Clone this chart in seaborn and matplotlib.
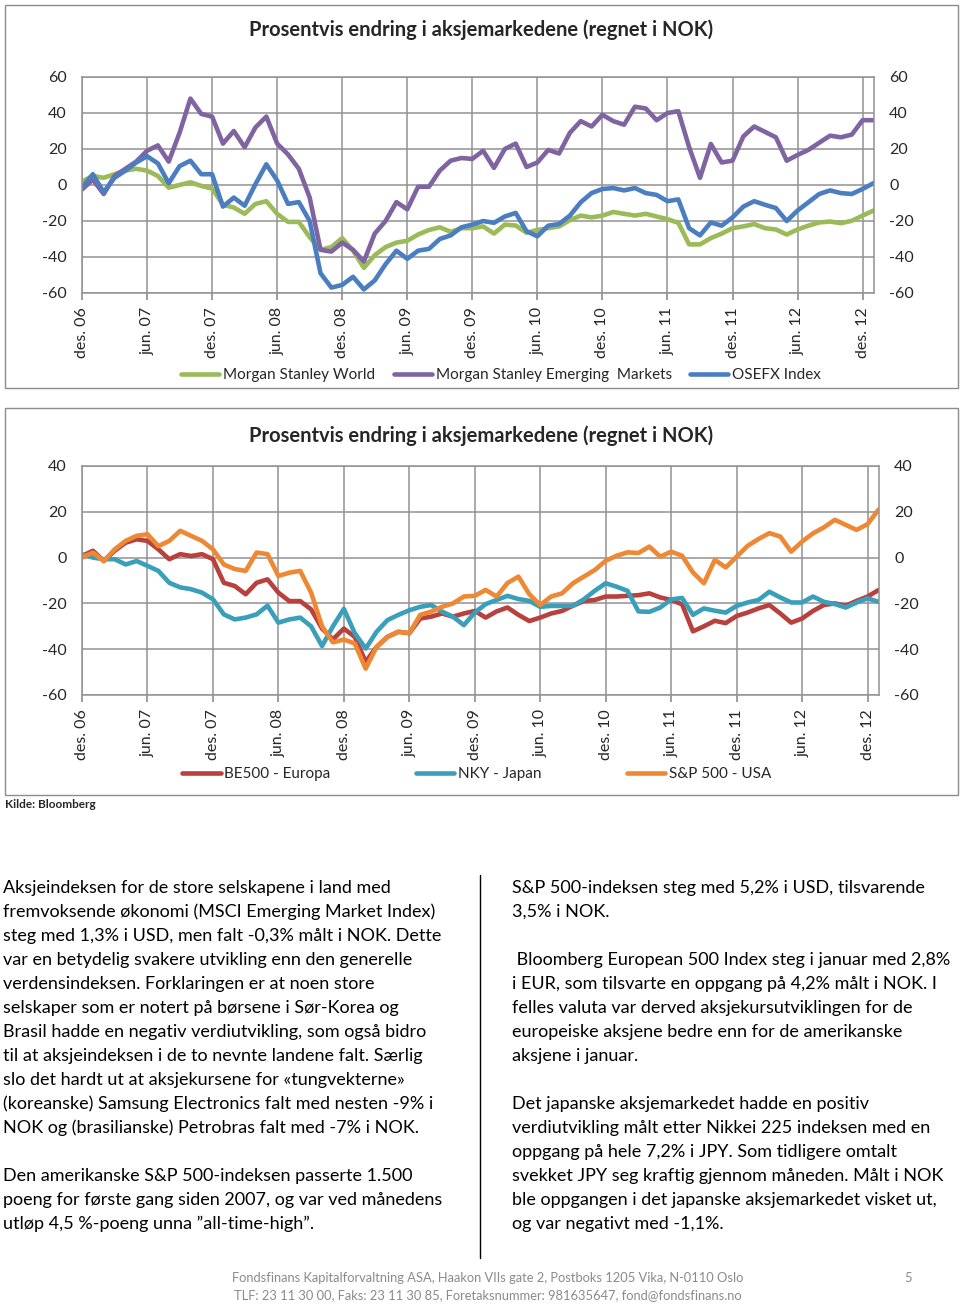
import numpy as np
import pandas as pd
import matplotlib
matplotlib.use("Agg")
import matplotlib.pyplot as plt
import seaborn as sns
from matplotlib.lines import Line2D
from matplotlib.patches import Rectangle

# month index 0 = des. 06 ... 73 = jan. 13
months = np.arange(74)
tick_pos = list(range(0, 73, 6))
tick_labels = ["des. 06", "jun. 07", "des. 07", "jun. 08", "des. 08", "jun. 09", "des. 09",
               "jun. 10", "des. 10", "jun. 11", "des. 11", "jun. 12", "des. 12"]

title = "Prosentvis endring i aksjemarkedene (regnet i NOK)"

# chart 1
names_1 = ["Morgan Stanley World", "Morgan Stanley Emerging  Markets", "OSEFX Index"]
colors_1 = ["#9BBB59", "#8064A2", "#4A7EC0"]
ms_world = [2, 5, 4, 6, 8, 9, 8, 5, -1.5, 0, 1.5, -0.5, -2,
            -11, -12.5, -16, -10.5, -9, -16, -20.5, -20.5, -29, -36, -34.5, -29.5,
            -36.5, -46, -39, -34.5, -32, -31, -27.5, -25, -23.5, -26, -24, -24,
            -23, -27, -22, -22.5, -26.5, -25, -24, -23, -19.5, -17, -18, -17,
            -15, -16, -17, -16, -17.5, -19, -21, -33, -33, -29.5, -27, -24,
            -23, -21.7, -24, -24.7, -27.5, -24.7, -22.6, -20.8, -20.3, -21.2, -19.9, -17, -14.2]
ms_em = [-2.5, 3, -5, 5, 9, 13, 19, 22, 13, 29, 48, 39.5, 38,
         23, 30, 21, 32, 38, 23, 17, 9, -7, -36, -37, -32,
         -36, -42.5, -27, -20, -9.5, -13.5, -1, -1, 8, 13.5, 15, 14.5,
         19, 9.5, 20, 23, 10, 12.5, 19.5, 17.5, 29, 35.5, 32.5, 39,
         35.5, 33.5, 43.5, 42.5, 36, 40, 41, 21, 4, 22.8, 12.5, 13.5,
         27, 32.5, 29.5, 26.5, 13.5, 16.7, 19.5, 23.5, 27.4, 26.5, 28, 36, 36]
osefx = [-1.5, 6, -4, 4, 8, 12.5, 16, 12, 1, 10.5, 13.5, 6, 6,
         -12, -7, -11.5, 0.5, 11.5, 2.5, -10.5, -9.5, -20, -49, -57, -55.5,
         -51, -58, -53, -44, -36.5, -41, -36.5, -35.5, -30, -28, -23.5, -22,
         -20, -21, -17.5, -15.5, -25.7, -28.5, -22.6, -21.7, -17, -9.6, -4.5, -2.2,
         -1.7, -3, -1.7, -4.5, -5.5, -9, -8, -24, -28, -20.8, -22.6, -18,
         -12, -9, -11, -12.8, -20, -14.2, -9.6, -5, -3, -4.5, -5, -2.2, 1]

# chart 2
names_2 = ["BE500 - Europa", "NKY - Japan", "S&P 500 - USA"]
colors_2 = ["#B8403D", "#3A9FBA", "#EE8834"]
be500 = [0.7, 3, -1.5, 3, 6.5, 8, 7.3, 3.6, -0.7, 1.5, 0.7, 1.5, -0.7,
         -11, -12.4, -16, -11, -9.5, -15.3, -19, -19, -22.6, -31, -35.7, -31,
         -34.6, -45.5, -39, -34.6, -32.4, -33, -26.6, -25.8, -24.4, -25.8, -24.4, -23.3,
         -26.2, -23.5, -21.8, -25, -27.7, -26.2, -24.4, -23.3, -21, -19, -18.5, -17,
         -17, -16.7, -16.4, -15.6, -17.4, -18.5, -20.4, -32.2, -30, -27.6, -28.6, -25.5,
         -24, -22.2, -20.7, -24.4, -28.4, -26.6, -23.3, -20.7, -20, -21, -18.9, -17, -14.2]
nky = [1.5, 0, -0.7, -0.7, -3, -1.5, -3.6, -5.8, -11, -13, -13.8, -15.3, -18.2,
       -24.8, -27, -26.2, -24.8, -21, -28.4, -27, -26.2, -30, -38.6, -30, -22.4,
       -33, -39.7, -32.4, -27.3, -25, -23, -21.5, -20.7, -23.6, -25.8, -29.5, -24,
       -20.3, -18.5, -16.7, -18.1, -18.9, -21.5, -21.1, -21.1, -21.1, -18.2, -14.5, -11.2,
       -12.7, -14.5, -23.5, -23.7, -21.8, -18.3, -17.6, -25, -22.2, -23.2, -24, -21.1,
       -19.6, -18.5, -14.9, -17.4, -19.6, -19.6, -17, -19.3, -20.3, -21.8, -19.6, -17.8, -19.3]
sp500 = [0, 2.2, -1.5, 3.6, 7.3, 9.5, 10.2, 5, 7.3, 11.7, 9.5, 7.3, 3.6,
         -3, -5, -5.8, 2.2, 1.5, -8, -6.6, -5.8, -15.3, -30, -37, -35.8,
         -37.5, -48.5, -39, -34.6, -32.4, -33, -25, -23.6, -21.5, -20, -17, -16.7,
         -14.1, -17, -11.1, -8.3, -16, -20.7, -17, -15.6, -11.2, -8.3, -5.4, -1.4,
         0.8, 2.3, 2, 4.8, 0.4, 2.6, 0.8, -6.5, -11.2, -1, -4.3, 0.4,
         5.1, 8.1, 10.7, 9.2, 2.6, 7, 10.6, 13.2, 16.5, 14.3, 12.1, 14.6, 20.9]

left_lines = [
    "Aksjeindeksen for de store selskapene i land med",
    "fremvoksende økonomi (MSCI Emerging Market Index)",
    "steg med 1,3% i USD, men falt -0,3% målt i NOK. Dette",
    "var en betydelig svakere utvikling enn den generelle",
    "verdensindeksen. Forklaringen er at noen store",
    "selskaper som er notert på børsene i Sør-Korea og",
    "Brasil hadde en negativ verdiutvikling, som også bidro",
    "til at aksjeindeksen i de to nevnte landene falt. Særlig",
    "slo det hardt ut at aksjekursene for «tungvekterne»",
    "(koreanske) Samsung Electronics falt med nesten -9% i",
    "NOK og (brasilianske) Petrobras falt med -7% i NOK.",
    "",
    "Den amerikanske S&P 500-indeksen passerte 1.500",
    "poeng for første gang siden 2007, og var ved månedens",
    "utløp 4,5 %-poeng unna ”all-time-high”.",
]
right_lines = [
    "S&P 500-indeksen steg med 5,2% i USD, tilsvarende",
    "3,5% i NOK.",
    "",
    " Bloomberg European 500 Index steg i januar med 2,8%",
    "i EUR, som tilsvarte en oppgang på 4,2% målt i NOK. I",
    "felles valuta var derved aksjekursutviklingen for de",
    "europeiske aksjene bedre enn for de amerikanske",
    "aksjene i januar.",
    "",
    "Det japanske aksjemarkedet hadde en positiv",
    "verdiutvikling målt etter Nikkei 225 indeksen med en",
    "oppgang på hele 7,2% i JPY. Som tidligere omtalt",
    "svekket JPY seg kraftig gjennom måneden. Målt i NOK",
    "ble oppgangen i det japanske aksjemarkedet visket ut,",
    "og var negativt med -1,1%.",
]
footer_1 = "Fondsfinans Kapitalforvaltning ASA, Haakon VIIs gate 2, Postboks 1205 Vika, N-0110 Oslo"
footer_2 = "TLF: 23 11 30 00, Faks: 23 11 30 85, Foretaksnummer: 981635647, fond@fondsfinans.no"

sns.set_theme(style="white")
plt.rcParams['font.family'] = ['Lato', 'DejaVu Sans']
plt.rcParams['axes.unicode_minus'] = False

W, H = 960, 1304
fig = plt.figure(figsize=(W / 100, H / 100), dpi=100)
grid_c = "#929292"


def fx(px):
    return px / W


def fy(py):
    return 1 - py / H


def draw_panel(ax, series, names, colors, ylim, yticks):
    df = pd.DataFrame({
        "maaned": np.tile(months, len(series)),
        "endring": np.concatenate([np.asarray(s, float) for s in series]),
        "serie": np.repeat(names, len(months)),
    })
    sns.lineplot(data=df, x="maaned", y="endring", hue="serie", hue_order=names,
                 palette=dict(zip(names, colors)), estimator=None, sort=False,
                 lw=3.3, legend=False, ax=ax)
    ax.set_xlim(0, 73.05)
    ax.set_ylim(*ylim)
    ax.set_yticks(yticks)
    ax.set_xticks(tick_pos)
    ax.set_xticklabels(tick_labels, rotation=90, fontsize=11.5)
    ax.tick_params(axis="y", labelsize=11.5, left=False, right=False,
                   labelleft=True, labelright=True, length=0, pad=11)
    ax.tick_params(axis="x", bottom=True, length=5, color=grid_c, pad=5)
    ax.grid(True, color=grid_c, lw=1.1)
    ax.set_axisbelow(True)
    ax.set_xlabel("")
    ax.set_ylabel("")
    for sp in ax.spines.values():
        sp.set_color(grid_c)
        sp.set_linewidth(1.1)


# frames around the two charts
for top, bot in [(5, 388), (408, 795)]:
    fig.patches.append(Rectangle((fx(5), fy(bot)), fx(953), (bot - top) / H,
                                 transform=fig.transFigure, fill=False,
                                 edgecolor="#8c8c8c", lw=1))

ax1 = fig.add_axes([fx(82), fy(293), fx(792), 216 / H])
draw_panel(ax1, [ms_world, ms_em, osefx], names_1, colors_1, (-60, 60), range(-60, 61, 20))
fig.text(fx(481), fy(30), title, ha="center", va="center", fontsize=14.5, fontweight="bold")
h1 = [Line2D([], [], color=c, lw=3.3) for c in colors_1]
fig.legend(h1, names_1, loc="center", bbox_to_anchor=(fx(501), fy(375)), ncol=3,
           frameon=False, fontsize=11, handlelength=2.5, handletextpad=0.25, columnspacing=1.2)

ax2 = fig.add_axes([fx(82), fy(695), fx(797), 229 / H])
draw_panel(ax2, [be500, nky, sp500], names_2, colors_2, (-60, 40), range(-60, 41, 20))
fig.text(fx(481), fy(436), title, ha="center", va="center", fontsize=14.5, fontweight="bold")
h2 = [Line2D([], [], color=c, lw=3.3) for c in colors_2]
fig.legend(h2, names_2, loc="center", bbox_to_anchor=(fx(477), fy(774)), ncol=3,
           frameon=False, fontsize=11, handlelength=2.5, handletextpad=0.25, columnspacing=5.6)

fig.text(fx(5), fy(805), "Kilde: Bloomberg", ha="left", va="center", fontsize=8.5, fontweight="bold")

# body text
for i, line in enumerate(left_lines):
    fig.text(fx(3), fy(888 + 24 * i), line, ha="left", va="center", fontsize=13, color="black")
for i, line in enumerate(right_lines):
    fig.text(fx(512), fy(888 + 24 * i), line, ha="left", va="center", fontsize=13, color="black")
fig.add_artist(Line2D([fx(480), fx(480)], [fy(875), fy(1258)], color="black", lw=1))

fig.text(fx(488), fy(1278), footer_1, ha="center", va="center", fontsize=9.3, color="#8a8a8a")
fig.text(fx(488), fy(1295), footer_2, ha="center", va="center", fontsize=9.3, color="#8a8a8a")
fig.text(fx(908), fy(1278), "5", ha="center", va="center", fontsize=9.3, color="#8a8a8a")

fig.savefig("out.png", dpi=100)
